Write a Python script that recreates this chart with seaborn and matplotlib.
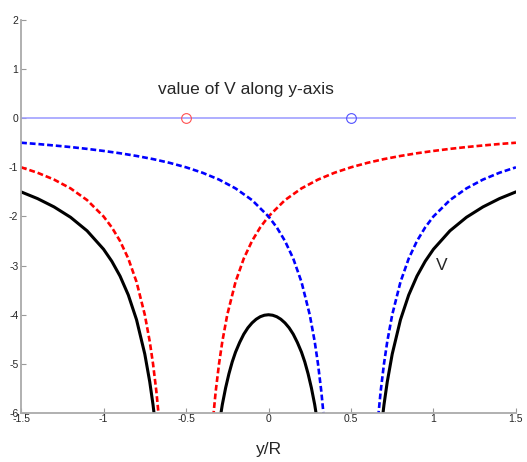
import matplotlib
matplotlib.use("Agg")
import matplotlib.pyplot as plt
import seaborn as sns

# Potential along the y-axis
# red dashed: charge at y=-0.5
red_left_y = [-1.5, -1.4, -1.3, -1.2, -1.1, -1.0, -0.95, -0.9, -0.85, -0.8, -0.75, -0.72, -0.7, -0.68, -0.66]
red_left_v = [-1.0, -1.111, -1.25, -1.429, -1.667, -2.0, -2.222, -2.5, -2.857, -3.333, -4.0, -4.545, -5.0, -5.556, -6.25]
red_right_y = [-0.34, -0.32, -0.3, -0.28, -0.25, -0.2, -0.15, -0.1, -0.05, 0.0, 0.1, 0.2, 0.3, 0.4, 0.5,
               0.6, 0.7, 0.8, 0.9, 1.0, 1.1, 1.2, 1.3, 1.4, 1.5]
red_right_v = [-6.25, -5.556, -5.0, -4.545, -4.0, -3.333, -2.857, -2.5, -2.222, -2.0, -1.667, -1.429, -1.25, -1.111, -1.0,
               -0.909, -0.833, -0.769, -0.714, -0.667, -0.625, -0.588, -0.556, -0.526, -0.5]

# blue dashed: charge at y=+0.5
blue_left_y = [-1.5, -1.4, -1.3, -1.2, -1.1, -1.0, -0.9, -0.8, -0.7, -0.6, -0.5, -0.4, -0.3, -0.2, -0.1,
               0.0, 0.05, 0.1, 0.15, 0.2, 0.25, 0.28, 0.3, 0.32, 0.34]
blue_left_v = [-0.5, -0.526, -0.556, -0.588, -0.625, -0.667, -0.714, -0.769, -0.833, -0.909, -1.0, -1.111, -1.25, -1.429, -1.667,
               -2.0, -2.222, -2.5, -2.857, -3.333, -4.0, -4.545, -5.0, -5.556, -6.25]
blue_right_y = [0.66, 0.68, 0.7, 0.72, 0.75, 0.8, 0.85, 0.9, 0.95, 1.0, 1.1, 1.2, 1.3, 1.4, 1.5]
blue_right_v = [-6.25, -5.556, -5.0, -4.545, -4.0, -3.333, -2.857, -2.5, -2.222, -2.0, -1.667, -1.429, -1.25, -1.111, -1.0]

# black solid: total V
v_left_y = [-1.5, -1.4, -1.3, -1.2, -1.1, -1.0, -0.95, -0.9, -0.85, -0.8, -0.75, -0.72, -0.7, -0.68]
v_left_v = [-1.5, -1.637, -1.806, -2.017, -2.292, -2.667, -2.912, -3.214, -3.598, -4.102, -4.8, -5.365, -5.833, -6.403]
v_mid_y = [-0.32, -0.3, -0.28, -0.26, -0.24, -0.22, -0.2, -0.175, -0.15, -0.125, -0.1, -0.075, -0.05, -0.025, 0.0,
           0.025, 0.05, 0.075, 0.1, 0.125, 0.15, 0.175, 0.2, 0.22, 0.24, 0.26, 0.28, 0.3, 0.32]
v_mid_v = [-6.775, -6.25, -5.828, -5.488, -5.202, -4.960, -4.762, -4.564, -4.396, -4.266, -4.167, -4.092, -4.040, -4.010, -4.0,
           -4.010, -4.040, -4.092, -4.167, -4.266, -4.396, -4.564, -4.762, -4.960, -5.202, -5.488, -5.828, -6.25, -6.775]
v_right_y = [0.68, 0.7, 0.72, 0.75, 0.8, 0.85, 0.9, 0.95, 1.0, 1.1, 1.2, 1.3, 1.4, 1.5]
v_right_v = [-6.403, -5.833, -5.365, -4.8, -4.102, -3.598, -3.214, -2.912, -2.667, -2.292, -2.017, -1.806, -1.637, -1.5]

# charge positions on the axis
charge_y = [-0.5, 0.5]
charge_colors = ["#ff5050", "#5050ff"]

sns.set_style("ticks")
plt.rcParams['font.family'] = ['Liberation Sans', 'DejaVu Sans']

fig = plt.figure(figsize=(5.27, 4.62), dpi=100)
ax = fig.add_axes([0.040, 0.106, 0.939, 0.851])

# zero line with the two charges
ax.axhline(0, color="#9999ff", lw=1.1, zorder=1)
for cy, cc in zip(charge_y, charge_colors):
    ax.plot(cy, 0, marker="o", ms=7, mfc="none", mec=cc, mew=0.8, zorder=3)

dash = (2.2, 1.1)
for xs, ys in [(red_left_y, red_left_v), (red_right_y, red_right_v)]:
    sns.lineplot(x=xs, y=ys, ax=ax, color="red", lw=1.9, sort=False)
    ax.lines[-1].set_dashes(dash)
for xs, ys in [(blue_left_y, blue_left_v), (blue_right_y, blue_right_v)]:
    sns.lineplot(x=xs, y=ys, ax=ax, color="blue", lw=1.9, sort=False)
    ax.lines[-1].set_dashes(dash)
for xs, ys in [(v_left_y, v_left_v), (v_mid_y, v_mid_v), (v_right_y, v_right_v)]:
    sns.lineplot(x=xs, y=ys, ax=ax, color="black", lw=2.2, sort=False)

ax.text(-0.67, 0.49, "value of V along y-axis", fontsize=12.5, ha="left", va="baseline")
ax.text(1.05, -2.99, "V", fontsize=12.5, ha="center", va="center")

ax.set_xlim(-1.5, 1.5)
ax.set_ylim(-6, 2)
ax.set_xticks([-1.5, -1, -0.5, 0, 0.5, 1, 1.5])
ax.set_xticklabels(["-1.5", "-1", "-0.5", "0", "0.5", "1", "1.5"])
ax.set_yticks([-6, -5, -4, -3, -2, -1, 0, 1, 2])
ax.set_yticklabels(["-6", "-5", "-4", "-3", "-2", "-1", "0", "1", "2"])
ax.tick_params(direction="in", length=3.5, width=0.8, color="#999999", labelsize=7.5, pad=2)
ax.tick_params(axis="x", pad=1)
ax.set_xlabel("y/R", fontsize=12.5, labelpad=13)
ax.set_ylabel("")

sns.despine(ax=ax)
for s in ["left", "bottom"]:
    ax.spines[s].set_color("#aaaaaa")
    ax.spines[s].set_linewidth(1.3)

fig.savefig("out.png", dpi=100)
